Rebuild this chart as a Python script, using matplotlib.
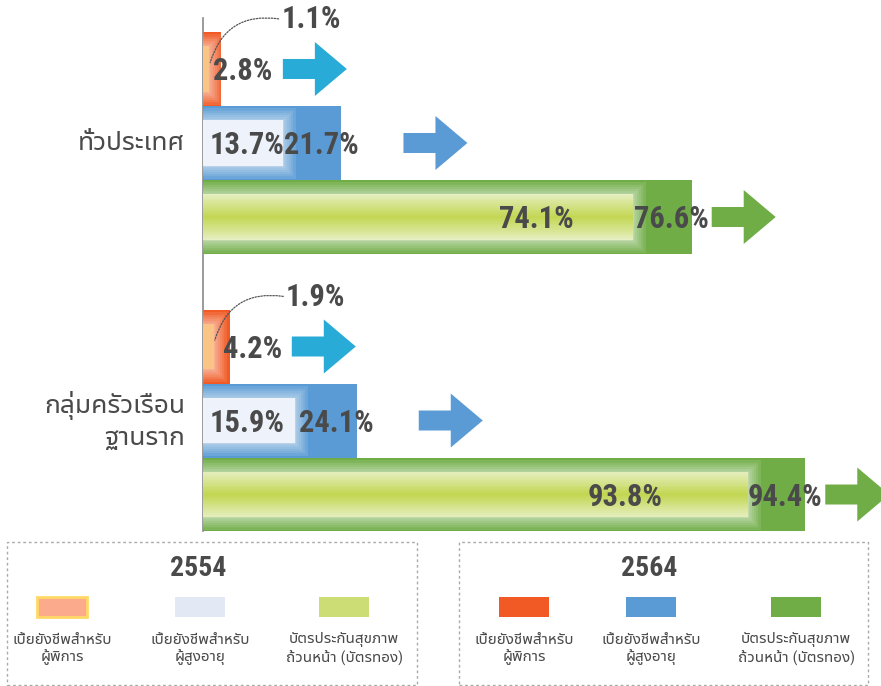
import matplotlib
matplotlib.use("Agg")
import matplotlib.pyplot as plt
from matplotlib import font_manager
from matplotlib.ft2font import FT2Font
from matplotlib.patches import Polygon, Rectangle
from matplotlib.colors import to_rgb
import matplotlib.patheffects as pe

# ---------------- data ----------------
groups = ["ทั่วประเทศ", "กลุ่มครัวเรือน\nฐานราก"]
series = ["เบี้ยยังชีพสำหรับ\nผู้พิการ",
          "เบี้ยยังชีพสำหรับ\nผู้สูงอายุ",
          "บัตรประกันสุขภาพ\nถ้วนหน้า (บัตรทอง)"]
years = ["2554", "2564"]
national_2554 = [1.1, 13.7, 74.1]
national_2564 = [2.8, 21.7, 76.6]
base_2554 = [1.9, 15.9, 93.8]
base_2564 = [4.2, 24.1, 94.4]
values_2554 = [national_2554, base_2554]
values_2564 = [national_2564, base_2564]

# ---------------- fonts ----------------
def _thai_font():
    found = []
    for f in font_manager.fontManager.ttflist:
        try:
            cmap = FT2Font(f.fname).get_charmap()
        except Exception:
            continue
        if 0x0E01 in cmap and 0x0E2A in cmap:
            found.append(f.name)
    if not found:
        return None
    def rank(n):
        s = 0
        if "Thai" in n:
            s -= 2
        if "Looped" in n:
            s += 1
        return s
    return sorted(set(found), key=rank)[0]

_names = {f.name for f in font_manager.fontManager.ttflist}
num_font = "DejaVu Sans"
for cand in ["Liberation Sans Narrow", "Roboto Condensed", "Open Sans Condensed", "Roboto", "Liberation Sans"]:
    if cand in _names:
        num_font = cand
        break
thai = _thai_font()
thai_fam = ([thai] if thai else []) + [num_font, "DejaVu Sans"]
plt.rcParams["font.family"] = [num_font] + ([thai] if thai else []) + ["DejaVu Sans"]

TXT = "#4A4A4A"
c_outer = ["#F15A24", "#5B9BD5", "#70AD47"]
c_inner = ["#FAC487", "#EEF2FA", "#E6EFC2"]
c_arrow = ["#29ABD8", "#5B9BD5", "#70AD47"]
c_legend_2554 = ["#FCAA8C", "#E2E8F4", "#CBDD74"]

W, H = 881, 686
fig = plt.figure(figsize=(W / 100, H / 100), dpi=100)
ax = fig.add_axes([203 / W, (H - 531) / H, 638 / W, (531 - 18) / H])
group_step = 3.75
ax.set_xlim(0, 100)
ax.set_ylim(6.243, -0.689)
for s in ["top", "right", "bottom"]:
    ax.spines[s].set_visible(False)
ax.spines["left"].set_color("#8A8A8A")
ax.spines["left"].set_linewidth(1.2)
ax.set_xticks([])
ax.set_yticks([])

# inner (2554) bars are drawn on a slightly compressed scale, as in the original
inner_scale = 0.91
ax_in = ax.twiny()
ax_in.set_xlim(0, 100 / inner_scale)
ax_in.set_ylim(ax.get_ylim())
ax_in.axis("off")

glow = [pe.Stroke(linewidth=lw, foreground="white", alpha=0.1) for lw in (18, 14, 11, 8, 5, 2.5)]
glow.append(pe.Normal())

ov = fig.add_axes([0, 0, 1, 1])
ov.set_xlim(0, W)
ov.set_ylim(0, H)
ov.axis("off")

arrow_gap = [62, 62, 20]
lab_fs = 22

# soft vertical gradient for the green 2554 bar
g_edge, g_mid = to_rgb("#E6EFC2"), to_rgb("#C3D754")
n_layers = 12
grad_layers = []
for j in range(1, n_layers + 1):
    t = j / n_layers
    h = 0.61 * (1 - t) + 0.04
    col = tuple(e + (m - e) * t for e, m in zip(g_edge, g_mid))
    grad_layers.append((h, col))

for g in range(2):
    ys = [g * group_step + i for i in range(3)]
    ax.barh(ys, values_2564[g], height=1.0, color=c_outer, edgecolor="none", zorder=2)
    bars = ax_in.barh(ys, values_2554[g], height=0.61, color=c_inner, edgecolor="none", zorder=2)
    for b in bars:
        b.set_path_effects(glow)
    for h, col in grad_layers:
        ax_in.barh(ys[2], values_2554[g][2], height=h, color=col, edgecolor="none", zorder=3)

    # category label
    ax_in.annotate(groups[g], xy=(0, ys[1]), xycoords=ax.transData, xytext=(-18, 0),
                   textcoords="offset pixels", ha="right", va="center", fontsize=19,
                   color=TXT, family=thai_fam, linespacing=1.3, annotation_clip=False)

    # 2564 labels
    offs = [52, 17, 17]
    for i in range(3):
        ax_in.annotate(f"{values_2564[g][i]:.1f}%", xy=(values_2564[g][i], ys[i]),
                       xycoords=ax.transData, xytext=(offs[i], -2), textcoords="offset pixels",
                       ha="right", va="center", fontsize=lab_fs, fontweight="bold", color=TXT,
                       zorder=6)

    # 2554 labels
    v0 = values_2554[g][0]
    ax_in.annotate(f"{v0:.1f}%", xy=(v0, ys[0] - 0.05), xytext=(72, 46), textcoords="offset pixels",
                   ha="left", va="center", fontsize=lab_fs, fontweight="bold", color=TXT,
                   arrowprops=dict(arrowstyle="-", linestyle=(0, (1.2, 1.2)), color="#555555", lw=0.9,
                                   connectionstyle="arc3,rad=0.45", shrinkA=0, shrinkB=2,
                                   relpos=(0, 0.5)),
                   zorder=6)
    ax_in.annotate(f"{values_2554[g][1]:.1f}%", xy=(0, ys[1]), xytext=(7, -2),
                   textcoords="offset pixels", ha="left", va="center", fontsize=lab_fs,
                   fontweight="bold", color=TXT, zorder=6)
    ax_in.annotate(f"{values_2554[g][2]:.1f}%", xy=(values_2554[g][2] * 0.775, ys[2]), xytext=(0, -2),
                   textcoords="offset pixels", ha="center", va="center", fontsize=lab_fs,
                   fontweight="bold", color=TXT, zorder=6)

    # arrows
    for i in range(3):
        px, py = ax.transData.transform((values_2564[g][i], ys[i]))
        x0 = px + arrow_gap[i]
        verts = [(x0, py - 10), (x0 + 32, py - 10), (x0 + 32, py - 27), (x0 + 64, py),
                 (x0 + 32, py + 27), (x0 + 32, py + 10), (x0, py + 10)]
        ov.add_patch(Polygon(verts, closed=True, facecolor=c_arrow[i], edgecolor="none"))

# ---------------- legends ----------------
boxes = [(7, 417), (459, 868)]
box_top = 542
sw_centers = [[62, 200, 344], [524, 651, 796]]
sw_colors = [c_legend_2554, c_outer]
for k in range(2):
    x0, x1 = boxes[k]
    ov.add_patch(Rectangle((x0, 1), x1 - x0, H - box_top - 1, fill=False, edgecolor="#AAAAAA",
                           lw=1, linestyle=(0, (2, 2))))
    ov.text((x0 + x1) / 2 - 14, H - 568, years[k], ha="center", va="center", fontsize=20,
            fontweight="bold", color=TXT)
    for i in range(3):
        cx = sw_centers[k][i]
        ec = "#FFD966" if (k == 0 and i == 0) else "none"
        ov.add_patch(Rectangle((cx - 25, H - 617), 50, 20, facecolor=sw_colors[k][i],
                               edgecolor=ec, lw=2))
        ov.text(cx, H - 649, series[i], ha="center", va="center", fontsize=11, color=TXT,
                family=thai_fam, linespacing=1.25)

fig.savefig("out.png", dpi=100)
